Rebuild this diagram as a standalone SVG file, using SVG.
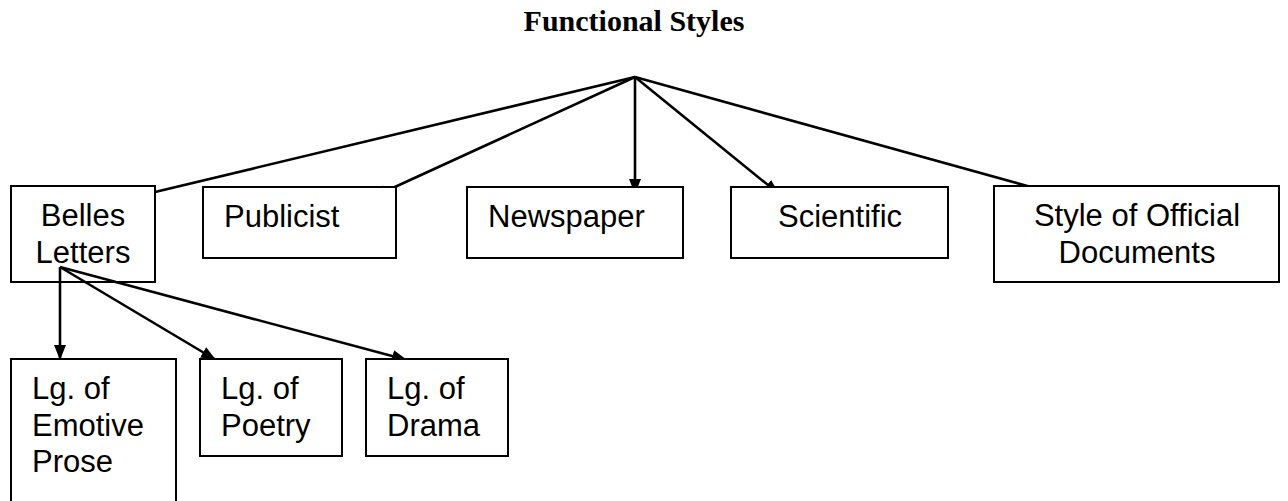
<svg xmlns="http://www.w3.org/2000/svg" width="1288" height="501" viewBox="0 0 1288 501">
<style>
.box{fill:#fff;stroke:#000;stroke-width:2}
.lbl{font-family:"Liberation Sans",Arial,sans-serif;font-size:31px;fill:#000}
.title{font-family:"Liberation Serif","Times New Roman",serif;font-size:30px;font-weight:bold;fill:#000}
.conn{stroke:#000;stroke-width:2.6;fill:none}
</style>
<defs>
<marker id="arr" markerUnits="userSpaceOnUse" markerWidth="16" markerHeight="14" refX="15" refY="7" orient="auto" viewBox="0 0 16 14">
<path d="M0,1 L15,7 L0,13 Z" fill="#000"/>
</marker>
</defs>
<rect width="1288" height="501" fill="#fff"/>
<text class="title" x="634" y="31" text-anchor="middle">Functional Styles</text>
<g id="connectors">
<line class="conn" x1="635" y1="77" x2="155" y2="192"/>
<line class="conn" x1="635" y1="77" x2="373" y2="197" marker-end="url(#arr)"/>
<line class="conn" x1="635" y1="77" x2="635" y2="194" marker-end="url(#arr)"/>
<line class="conn" x1="635" y1="77" x2="779" y2="194" marker-end="url(#arr)"/>
<line class="conn" x1="635" y1="77" x2="1031" y2="187"/>
<line class="conn" x1="60" y1="267" x2="60" y2="360" marker-end="url(#arr)"/>
<line class="conn" x1="60" y1="267" x2="216" y2="360" marker-end="url(#arr)"/>
<line class="conn" x1="60" y1="267" x2="407" y2="360" marker-end="url(#arr)"/>
</g>
<g id="belles">
<rect class="box" x="11" y="186" width="144" height="96"/>
<text class="lbl" x="83" y="226" text-anchor="middle">Belles</text>
<text class="lbl" x="83" y="263" text-anchor="middle">Letters</text>
</g>
<g id="connectors-over-belles">
<line class="conn" x1="60" y1="267" x2="60" y2="283"/>
<line class="conn" x1="60" y1="267" x2="86" y2="282.5"/>
<line class="conn" x1="60" y1="267" x2="116" y2="282"/>
</g>
<g id="publicist">
<rect class="box" x="203" y="187" width="193" height="71"/>
<text class="lbl" x="224" y="227">Publicist</text>
</g>
<g id="newspaper">
<rect class="box" x="467" y="187" width="216" height="71"/>
<text class="lbl" x="488" y="227">Newspaper</text>
</g>
<g id="scientific">
<rect class="box" x="731" y="187" width="217" height="71"/>
<text class="lbl" x="840" y="227" text-anchor="middle">Scientific</text>
</g>
<g id="official">
<rect class="box" x="994" y="186" width="285" height="96"/>
<text class="lbl" x="1137" y="226" text-anchor="middle">Style of Official</text>
<text class="lbl" x="1137" y="263" text-anchor="middle">Documents</text>
</g>
<g id="emotive">
<rect class="box" x="11" y="359" width="165" height="160"/>
<text class="lbl" x="32" y="399">Lg. of</text>
<text class="lbl" x="32" y="436">Emotive</text>
<text class="lbl" x="32" y="472">Prose</text>
</g>
<g id="poetry">
<rect class="box" x="200" y="359" width="142" height="97"/>
<text class="lbl" x="221" y="399">Lg. of</text>
<text class="lbl" x="221" y="436">Poetry</text>
</g>
<g id="drama">
<rect class="box" x="366" y="359" width="142" height="97"/>
<text class="lbl" x="387" y="399">Lg. of</text>
<text class="lbl" x="387" y="436">Drama</text>
</g>
</svg>
